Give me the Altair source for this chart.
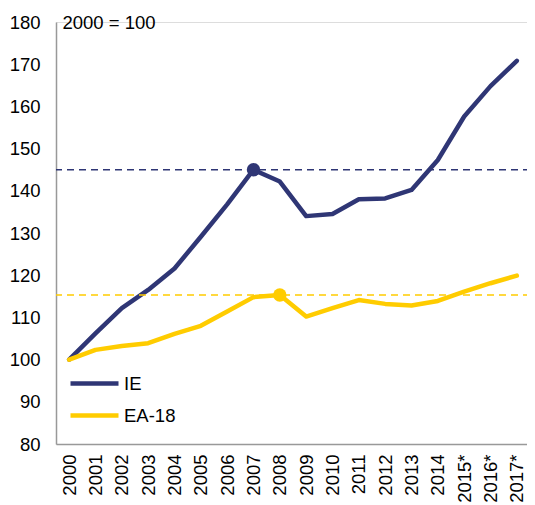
import altair as alt
import pandas as pd

years = ["2000", "2001", "2002", "2003", "2004", "2005", "2006", "2007", "2008",
         "2009", "2010", "2011", "2012", "2013", "2014", "2015*", "2016*", "2017*"]
ie = [100, 106.2, 112.2, 116.5, 121.6, 129.1, 136.8, 145, 142.2,
      134, 134.5, 138, 138.2, 140.2, 147.3, 157.6, 164.8, 170.8]
ea = [100, 102.3, 103.2, 103.9, 106.1, 108, 111.4, 114.8, 115.3,
      110.2, 112.2, 114.1, 113.2, 112.8, 113.9, 116.1, 118.1, 119.9]
series = ["IE", "EA-18"]
colors = ["#2F3675", "#FFCC00"]
peak_years = ["2007", "2008"]

rows = []
for s, vals in zip(series, [ie, ea]):
    for y, v in zip(years, vals):
        rows.append({"year": y, "series": s, "value": v})
df = pd.DataFrame(rows)

peaks = pd.DataFrame([
    {"year": py, "series": s, "value": vals[years.index(py)]}
    for s, vals, py in zip(series, [ie, ea], peak_years)
])

FONT = "Liberation Sans"
FS = 18.5
cscale = alt.Scale(domain=series, range=colors)
color = alt.Color("series:N", scale=cscale,
                  legend=alt.Legend(title=None, orient="none", legendX=28, legendY=351,
                                    symbolType="M-3,0H3", symbolSize=256,
                                    symbolStrokeWidth=4.5, labelFontSize=FS,
                                    labelFont=FONT, labelColor="#000000",
                                    labelOffset=19, rowPadding=12, padding=0))

xscale = alt.Scale(type="point", padding=0.5)
x = alt.X("year:N", sort=years, scale=xscale,
          axis=alt.Axis(title=None, labelAngle=-90, labelFontSize=FS, labelFont=FONT,
                        labelColor="#000000", ticks=False, labelPadding=10,
                        domainColor="#999999", domainWidth=1.5))
y = alt.Y("value:Q", scale=alt.Scale(domain=[80, 180], nice=False, zero=False),
          axis=alt.Axis(title="2000 = 100", titleAngle=0, titleAlign="left",
                        titleBaseline="middle", titleX=6, titleY=0,
                        titleFontSize=FS, titleFontWeight="normal", titleFont=FONT,
                        titleColor="#000000",
                        values=list(range(80, 181, 10)), grid=False, ticks=False,
                        labelFontSize=FS, labelFont=FONT, labelColor="#000000",
                        labelPadding=16, domainColor="#999999", domainWidth=1.5))

rules = alt.Chart(peaks).mark_rule(strokeDash=[7, 5], strokeWidth=1.5).encode(
    y=alt.Y("value:Q"),
    color=alt.Color("series:N", scale=cscale, legend=None),
)

lines = alt.Chart(df).mark_line(strokeWidth=4.5, strokeCap="round", strokeJoin="round").encode(
    x=x, y=y, color=color,
)

points = alt.Chart(peaks).mark_point(filled=True, size=180, opacity=1).encode(
    x=alt.X("year:N", sort=years, scale=xscale),
    y="value:Q",
    color=alt.Color("series:N", scale=cscale, legend=None),
)

chart = alt.layer(lines, rules, points).properties(
    width=474, height=422,
    autosize=alt.AutoSizeParams(type="none"),
    padding={"left": 48, "top": 14, "right": -3, "bottom": 70},
).configure_view(stroke=None).configure(font=FONT)

chart.save("out.html", embed_options={"renderer": "svg", "actions": False})
